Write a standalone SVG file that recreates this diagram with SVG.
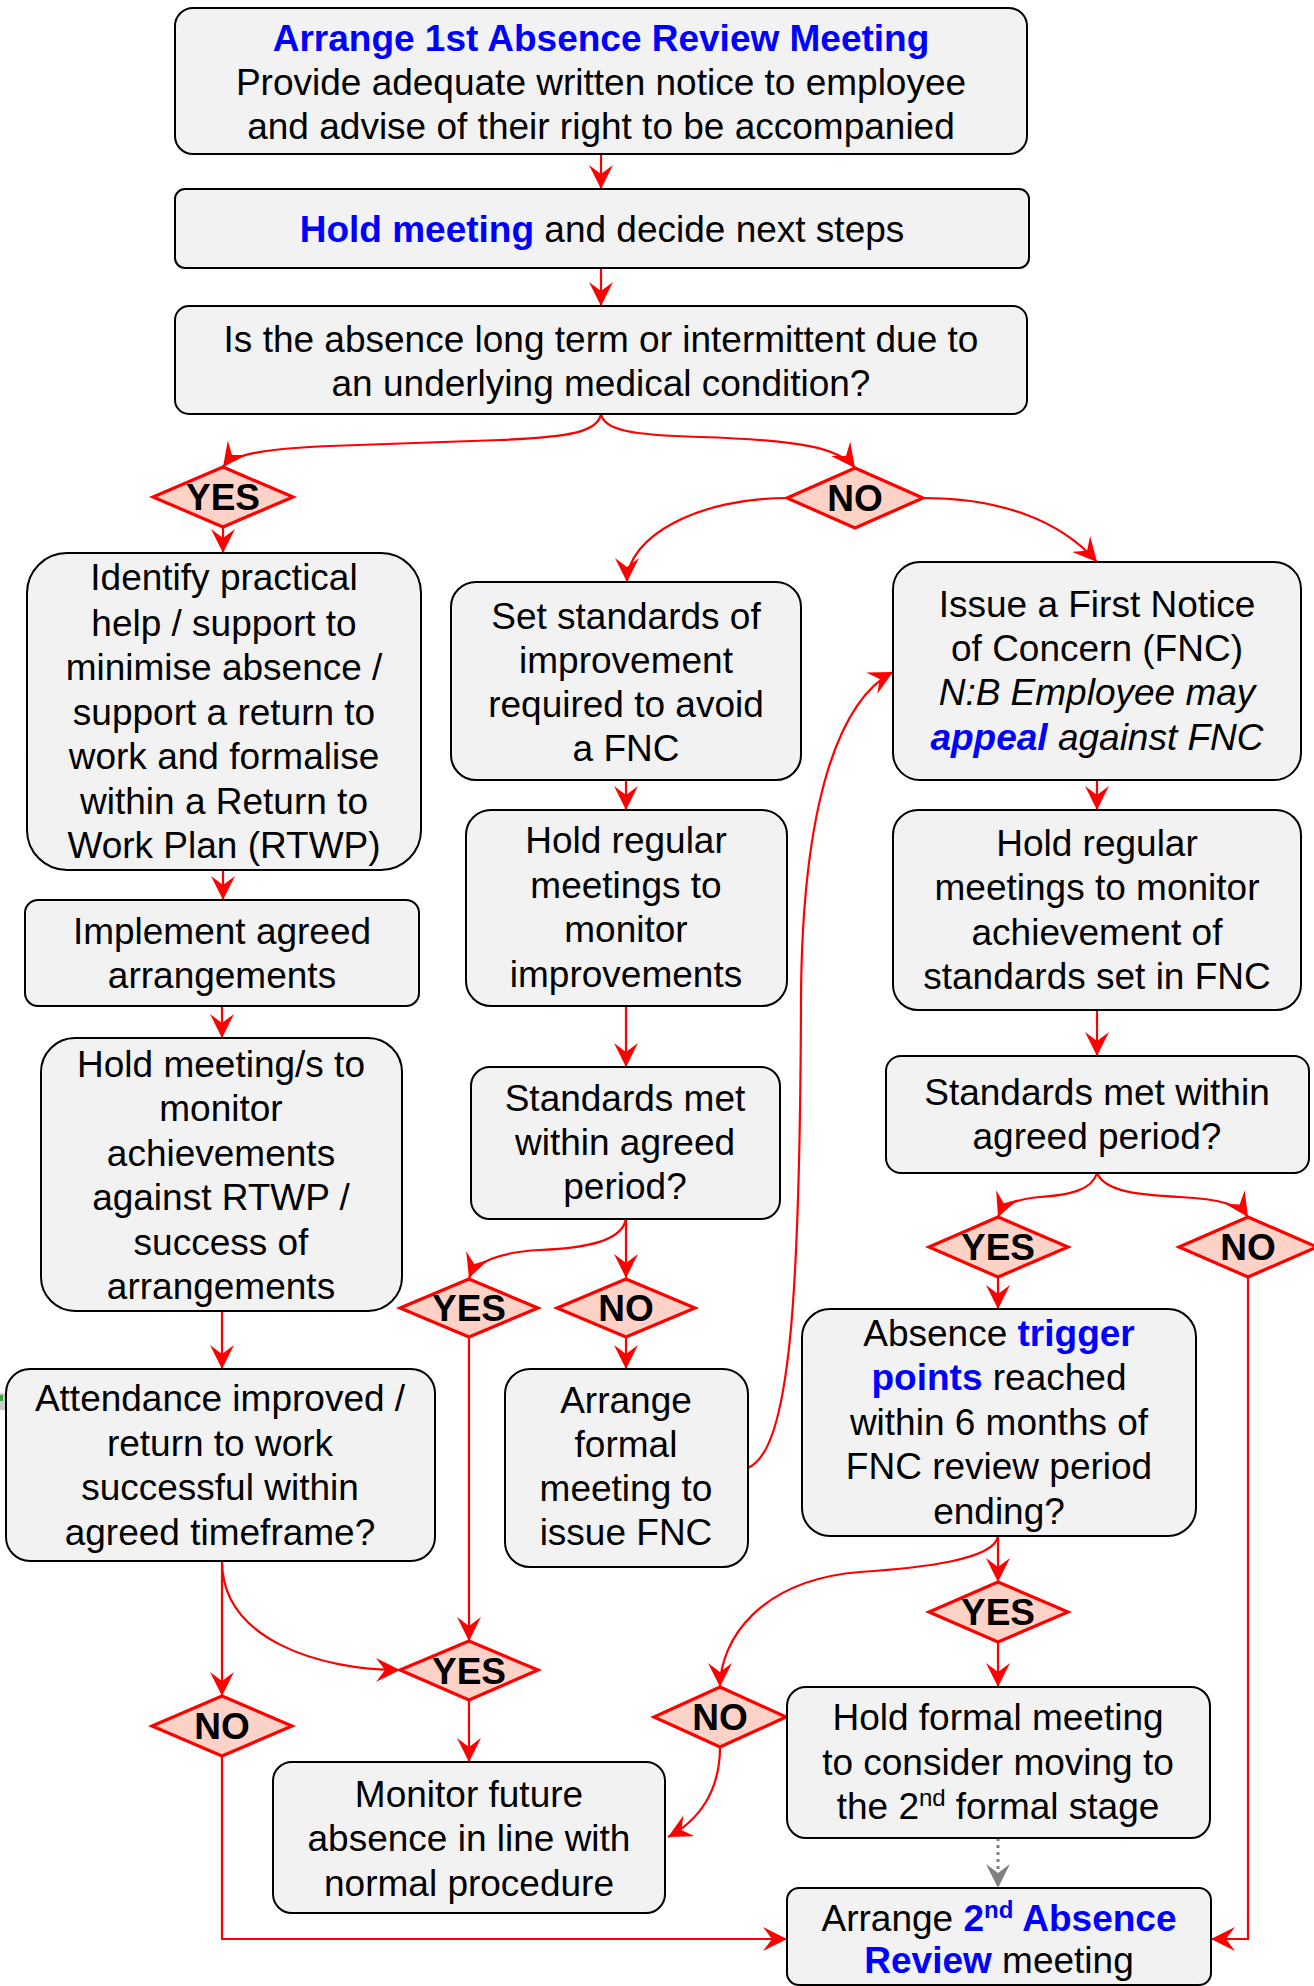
<svg xmlns="http://www.w3.org/2000/svg" width="1314" height="1986" viewBox="0 0 1314 1986">
<style>
.box{fill:#f2f2f2;stroke:#000;stroke-width:2}
.dia{fill:#ffd2c8;stroke:#ff0000;stroke-width:3.2}
.t{font-family:"Liberation Sans",Arial,Helvetica,sans-serif;font-size:37px;fill:#000;text-anchor:middle}
.d{font-family:"Liberation Sans",Arial,Helvetica,sans-serif;font-size:37px;font-weight:bold;fill:#000;text-anchor:middle}
.b{font-weight:bold;fill:#0000ff}
.i{font-style:italic}
.e{fill:none;stroke:#ff0000;stroke-width:2.2;marker-end:url(#arr)}
.g{fill:none;stroke:#808080;stroke-width:3;stroke-dasharray:3 4;marker-end:url(#garr)}
</style>
<defs>
<marker id="arr" markerUnits="userSpaceOnUse" markerWidth="24" markerHeight="24" viewBox="0 0 24 24" refX="24" refY="12" orient="auto"><path d="M0,0 L24,12 L0,24 L9,12 Z" fill="#ff0000"/></marker>
<marker id="garr" markerUnits="userSpaceOnUse" markerWidth="24" markerHeight="24" viewBox="0 0 24 24" refX="24" refY="12" orient="auto"><path d="M0,0 L24,12 L0,24 L9,12 Z" fill="#808080"/></marker>
</defs>
<rect x="0" y="0" width="1314" height="1986" fill="#ffffff"/>
<rect x="0" y="1393" width="6" height="17" fill="#cccccc"/>
<rect x="0" y="1395" width="3" height="6" fill="#33aa33"/>

<g id="connectors">
<path class="e" d="M601,154 L601,189"/>
<path class="e" d="M601,268 L601,306"/>
<path class="e" d="M601,414 C598,432 570,437 500,440 L330,446 C260,449 232,455 223,467"/>
<path class="e" d="M601,414 C604,430 630,435 700,437 C800,440 840,448 855,468"/>
<path class="e" d="M223,527 L223,553"/>
<path class="e" d="M787,498 C699,498 627,536 627,582"/>
<path class="e" d="M923,498 C1000,498 1060,520 1097,562"/>
<path class="e" d="M223,870 L223,900"/>
<path class="e" d="M222,1006 L222,1038"/>
<path class="e" d="M222,1311 L222,1369"/>
<path class="e" d="M626,780 L626,810"/>
<path class="e" d="M626,1006 L626,1067"/>
<path class="e" d="M626,1219 L626,1278"/>
<path class="e" d="M626,1219 C622,1240 590,1248 540,1250 C500,1252 475,1262 469,1278"/>
<path class="e" d="M626,1338 L626,1369"/>
<path class="e" d="M748,1468 C790,1450 800,1300 801,1000 C802,800 840,700 893,672"/>
<path class="e" d="M1097,780 L1097,810"/>
<path class="e" d="M1097,1010 L1097,1056"/>
<path class="e" d="M1097,1173 C1092,1190 1070,1195 1040,1197 C1015,1199 1003,1205 998,1217"/>
<path class="e" d="M1097,1173 C1105,1192 1140,1195 1180,1197 C1220,1199 1240,1205 1248,1217"/>
<path class="e" d="M998,1277 L998,1309"/>
<path class="e" d="M1248,1277 L1248,1939 L1211,1939"/>
<path class="e" d="M998,1536 L998,1582"/>
<path class="e" d="M998,1536 C995,1560 920,1568 860,1572 C760,1580 720,1640 720,1687"/>
<path class="e" d="M998,1642 L998,1687"/>
<path class="e" d="M720,1747 C720,1790 700,1820 668,1837"/>
<path class="g" d="M998,1838 L998,1888"/>
<path class="e" d="M469,1337 L469,1641"/>
<path class="e" d="M222,1561 C222,1640 320,1670 400,1670"/>
<path class="e" d="M222,1561 L222,1696"/>
<path class="e" d="M469,1700 L469,1762"/>
<path class="e" d="M222,1756 L222,1939 L787,1939"/>
</g>

<g id="n-arrange1">
<rect class="box" x="175" y="8" width="852" height="146" rx="18"/>
<text class="t" x="601" y="51"><tspan class="b">Arrange 1st Absence Review Meeting</tspan></text>
<text class="t" x="601" y="95">Provide adequate written notice to employee</text>
<text class="t" x="601" y="139">and advise of their right to be accompanied</text>
</g>
<g id="n-hold">
<rect class="box" x="175" y="189" width="854" height="79" rx="10"/>
<text class="t" x="602" y="242"><tspan class="b">Hold meeting</tspan> and decide next steps</text>
</g>
<g id="n-question">
<rect class="box" x="175" y="306" width="852" height="108" rx="14"/>
<text class="t" x="601" y="352">Is the absence long term or intermittent due to</text>
<text class="t" x="601" y="396">an underlying medical condition?</text>
</g>

<g id="d-yes1"><polygon class="dia" points="223,467 293,497 223,527 153,497"/><text class="d" x="223" y="510">YES</text></g>
<g id="d-no1"><polygon class="dia" points="855,468 923,498 855,528 787,498"/><text class="d" x="855" y="511">NO</text></g>

<g id="n-identify">
<rect class="box" x="27" y="553" width="394" height="317" rx="40"/>
<text class="t" x="224" y="590">Identify practical</text>
<text class="t" x="224" y="636">help / support to</text>
<text class="t" x="224" y="680">minimise absence /</text>
<text class="t" x="224" y="725">support a return to</text>
<text class="t" x="224" y="769">work and formalise</text>
<text class="t" x="224" y="814">within a Return to</text>
<text class="t" x="224" y="858">Work Plan (RTWP)</text>
</g>
<g id="n-implement">
<rect class="box" x="25" y="900" width="394" height="106" rx="13"/>
<text class="t" x="222" y="944">Implement agreed</text>
<text class="t" x="222" y="988">arrangements</text>
</g>
<g id="n-holdms">
<rect class="box" x="41" y="1038" width="361" height="273" rx="34"/>
<text class="t" x="221" y="1077">Hold meeting/s to</text>
<text class="t" x="221" y="1121">monitor</text>
<text class="t" x="221" y="1166">achievements</text>
<text class="t" x="221" y="1210">against RTWP /</text>
<text class="t" x="221" y="1255">success of</text>
<text class="t" x="221" y="1299">arrangements</text>
</g>
<g id="n-attendance">
<rect class="box" x="6" y="1369" width="429" height="192" rx="24"/>
<text class="t" x="220" y="1411">Attendance improved /</text>
<text class="t" x="220" y="1456">return to work</text>
<text class="t" x="220" y="1500">successful within</text>
<text class="t" x="220" y="1545">agreed timeframe?</text>
</g>

<g id="n-setstd">
<rect class="box" x="451" y="582" width="350" height="198" rx="25"/>
<text class="t" x="626" y="629">Set standards of</text>
<text class="t" x="626" y="673">improvement</text>
<text class="t" x="626" y="717">required to avoid</text>
<text class="t" x="626" y="761">a FNC</text>
</g>
<g id="n-holdreg">
<rect class="box" x="466" y="810" width="321" height="196" rx="25"/>
<text class="t" x="626" y="853">Hold regular</text>
<text class="t" x="626" y="898">meetings to</text>
<text class="t" x="626" y="942">monitor</text>
<text class="t" x="626" y="987">improvements</text>
</g>
<g id="n-stdmid">
<rect class="box" x="471" y="1067" width="309" height="152" rx="19"/>
<text class="t" x="625" y="1111">Standards met</text>
<text class="t" x="625" y="1155">within agreed</text>
<text class="t" x="625" y="1199">period?</text>
</g>
<g id="d-yes2"><polygon class="dia" points="469,1279 538,1308 469,1337 400,1308"/><text class="d" x="469" y="1321">YES</text></g>
<g id="d-no2"><polygon class="dia" points="626,1279 695,1308 626,1337 557,1308"/><text class="d" x="626" y="1321">NO</text></g>
<g id="n-arrformal">
<rect class="box" x="505" y="1369" width="243" height="198" rx="25"/>
<text class="t" x="626" y="1413">Arrange</text>
<text class="t" x="626" y="1457">formal</text>
<text class="t" x="626" y="1501">meeting to</text>
<text class="t" x="626" y="1545">issue FNC</text>
</g>

<g id="n-fnc">
<rect class="box" x="893" y="562" width="408" height="218" rx="27"/>
<text class="t" x="1097" y="617">Issue a First Notice</text>
<text class="t" x="1097" y="661">of Concern (FNC)</text>
<text class="t i" x="1097" y="705">N:B Employee may</text>
<text class="t i" x="1097" y="750"><tspan class="b">appeal</tspan> against FNC</text>
</g>
<g id="n-holdregfnc">
<rect class="box" x="893" y="810" width="408" height="200" rx="25"/>
<text class="t" x="1097" y="856">Hold regular</text>
<text class="t" x="1097" y="900">meetings to monitor</text>
<text class="t" x="1097" y="945">achievement of</text>
<text class="t" x="1097" y="989">standards set in FNC</text>
</g>
<g id="n-stdright">
<rect class="box" x="886" y="1056" width="423" height="117" rx="15"/>
<text class="t" x="1097" y="1105">Standards met within</text>
<text class="t" x="1097" y="1149">agreed period?</text>
</g>
<g id="d-yes3"><polygon class="dia" points="998,1217 1068,1247 998,1277 929,1247"/><text class="d" x="998" y="1260">YES</text></g>
<g id="d-no3"><polygon class="dia" points="1248,1217 1317,1247 1248,1277 1179,1247"/><text class="d" x="1248" y="1260">NO</text></g>
<g id="n-trigger">
<rect class="box" x="802" y="1309" width="394" height="227" rx="28"/>
<text class="t" x="999" y="1346">Absence <tspan class="b">trigger</tspan></text>
<text class="t" x="999" y="1390"><tspan class="b">points</tspan> reached</text>
<text class="t" x="999" y="1435">within 6 months of</text>
<text class="t" x="999" y="1479">FNC review period</text>
<text class="t" x="999" y="1524">ending?</text>
</g>
<g id="d-yes4"><polygon class="dia" points="998,1582 1068,1612 998,1642 929,1612"/><text class="d" x="998" y="1625">YES</text></g>
<g id="d-no4"><polygon class="dia" points="720,1687 786,1717 720,1747 654,1717"/><text class="d" x="720" y="1730">NO</text></g>
<g id="n-holdformal">
<rect class="box" x="787" y="1687" width="423" height="151" rx="19"/>
<text class="t" x="998" y="1730">Hold formal meeting</text>
<text class="t" x="998" y="1775">to consider moving to</text>
<text class="t" x="998" y="1819">the 2<tspan font-size="24" dy="-13">nd</tspan><tspan dy="13" dx="10">formal stage</tspan></text>
</g>
<g id="n-arrange2">
<rect class="box" x="787" y="1888" width="424" height="97" rx="12"/>
<text class="t" x="999" y="1931">Arrange <tspan class="b">2<tspan font-size="24" dy="-13">nd</tspan><tspan dy="13"> Absence</tspan></tspan></text>
<text class="t" x="999" y="1973"><tspan class="b">Review</tspan> meeting</text>
</g>

<g id="d-yes5"><polygon class="dia" points="469,1641 538,1670 469,1700 400,1670"/><text class="d" x="469" y="1684">YES</text></g>
<g id="d-no5"><polygon class="dia" points="222,1696 292,1726 222,1756 152,1726"/><text class="d" x="222" y="1739">NO</text></g>
<g id="n-monitor">
<rect class="box" x="273" y="1762" width="392" height="151" rx="19"/>
<text class="t" x="469" y="1807">Monitor future</text>
<text class="t" x="469" y="1851">absence in line with</text>
<text class="t" x="469" y="1896">normal procedure</text>
</g>
</svg>
